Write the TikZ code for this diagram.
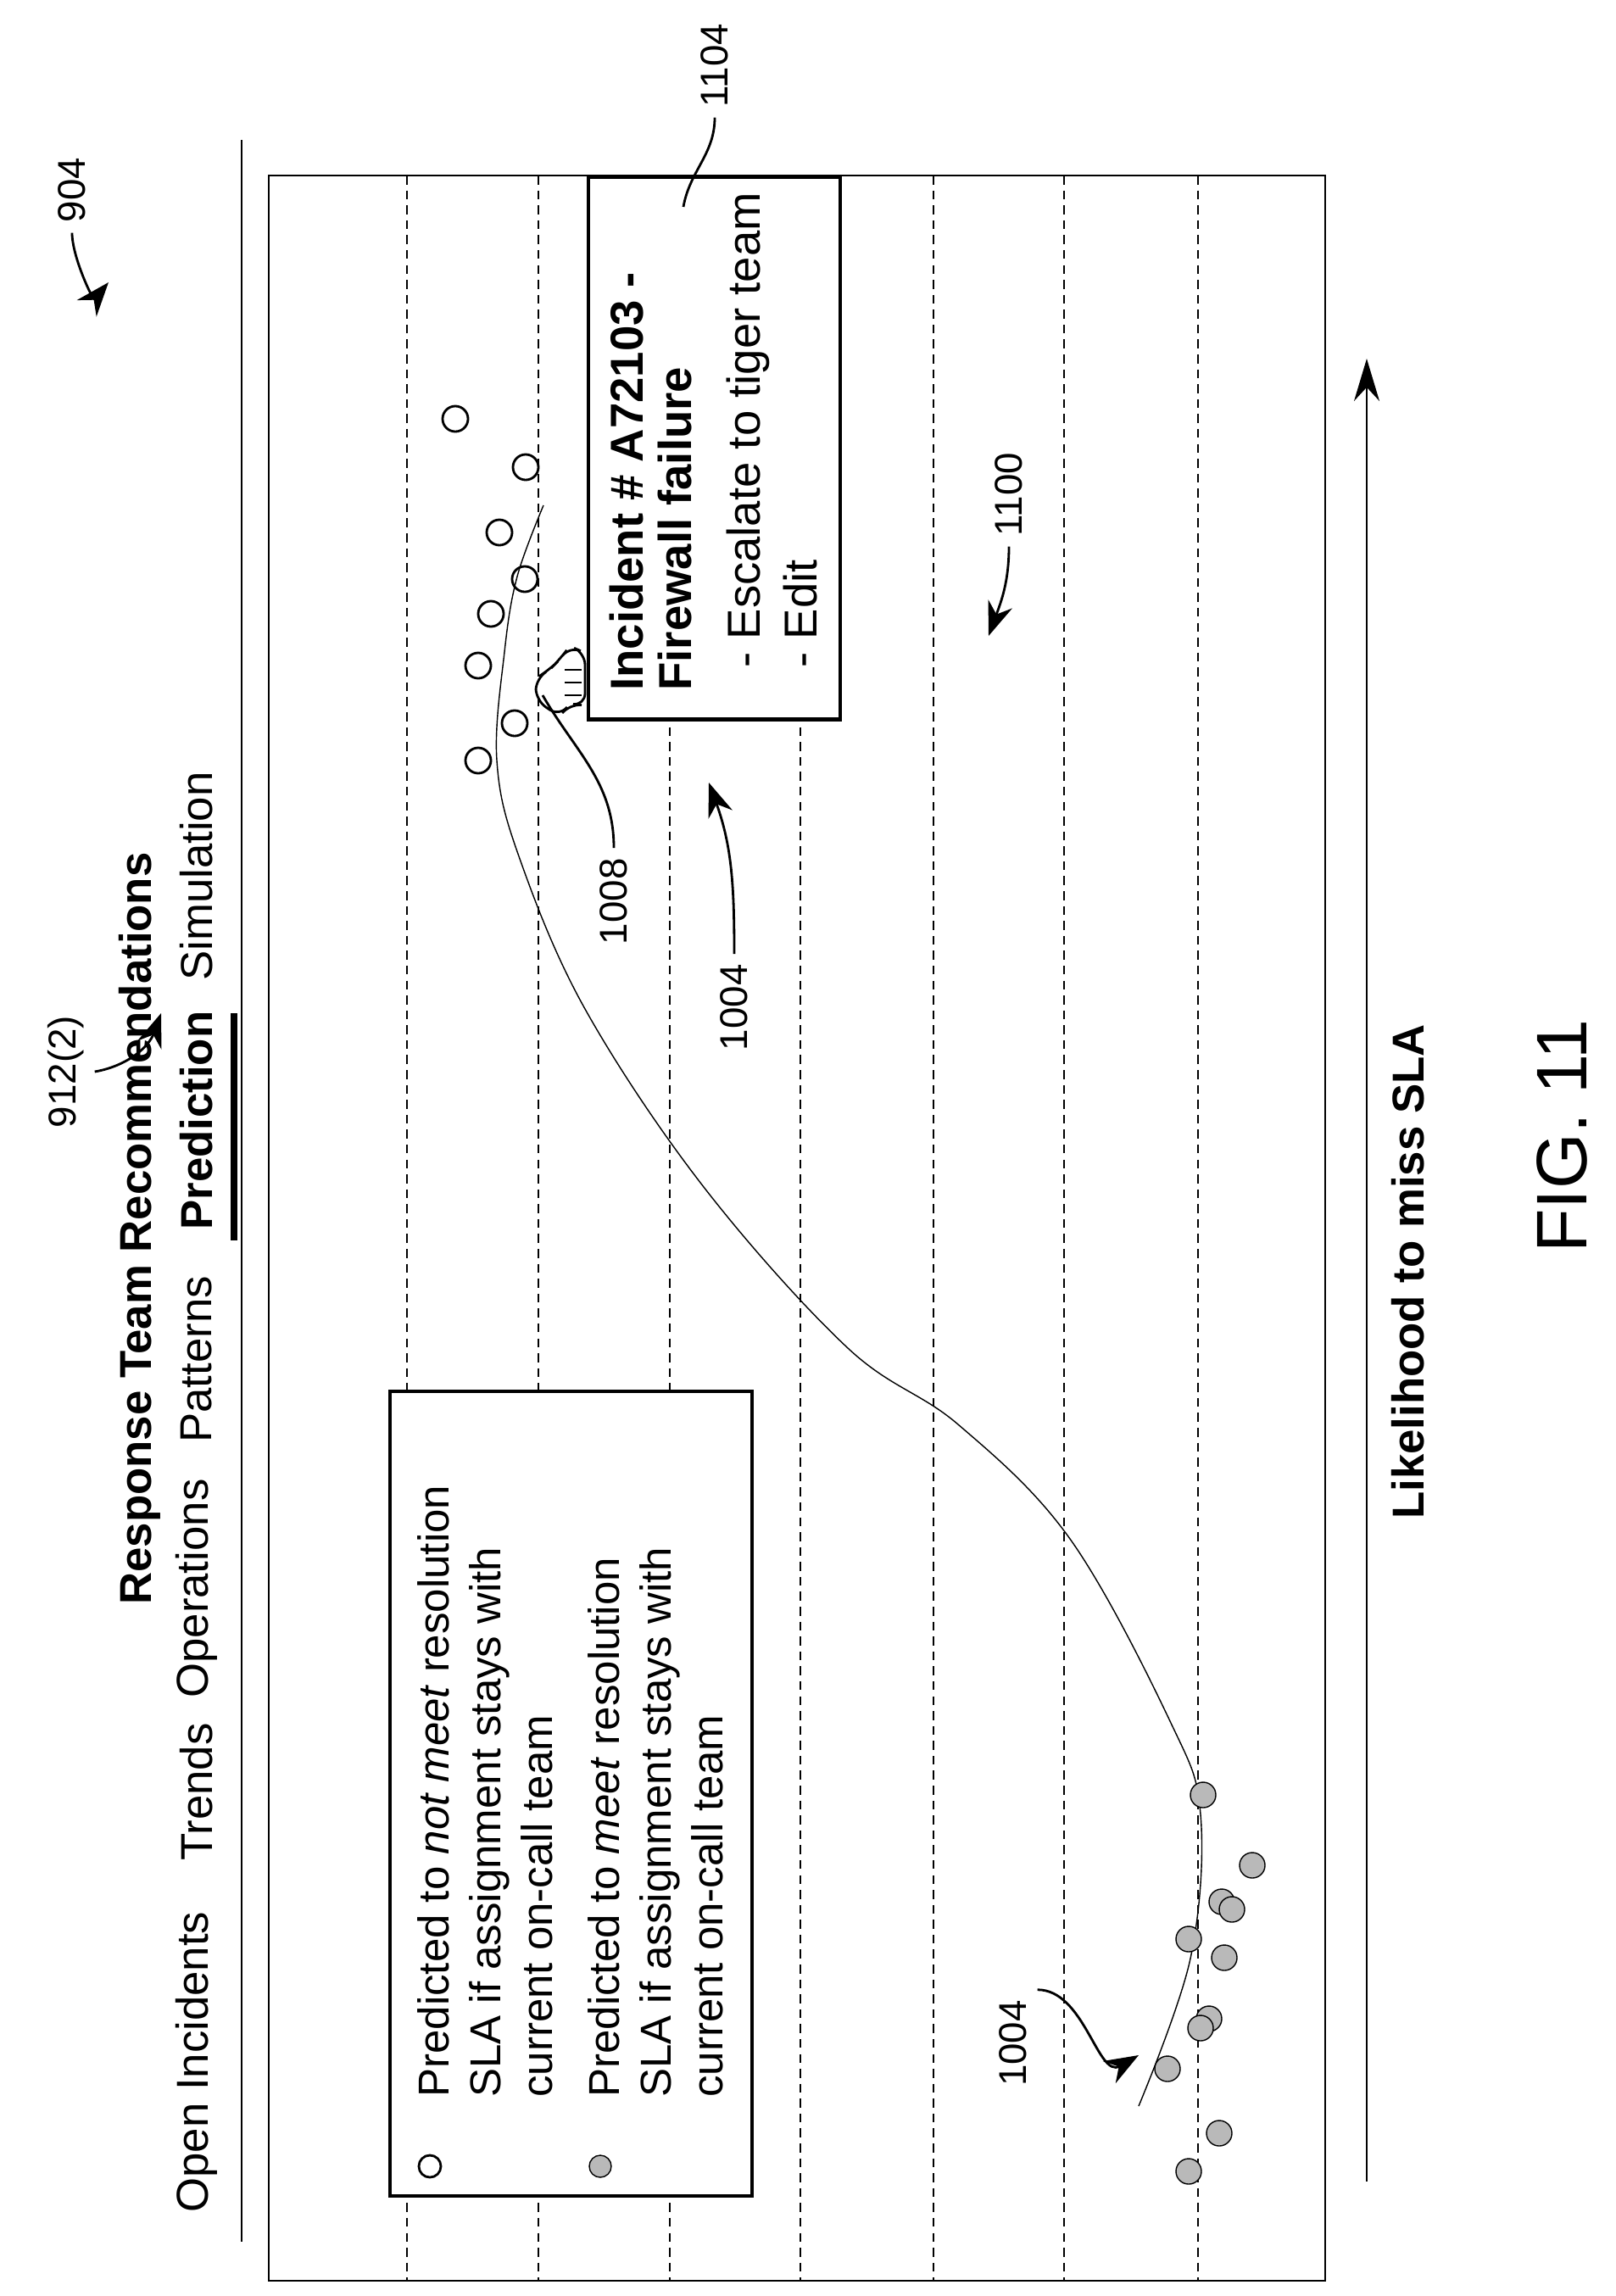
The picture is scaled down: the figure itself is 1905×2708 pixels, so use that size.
\documentclass[tikz,border=0pt]{standalone}
\usepackage{fontspec}
\setmainfont{Liberation Sans}
\usetikzlibrary{positioning,arrows.meta}

\begin{document}
\begin{tikzpicture}[x=0.01cm,y=-0.01cm,
    tab/.style={rotate=90,anchor=west,font=\fontsize{15}{18}\selectfont},
    lbl/.style={rotate=90,font=\fontsize{13}{15}\selectfont},
    grid line/.style={densely dashed,thin},
    opendot/.style={draw,thick,circle,minimum size=0.3cm,inner sep=0},
    metdot/.style={draw,circle,minimum size=0.3cm,inner sep=0,fill=gray!55},
    callout/.style={-{Stealth[length=4mm,width=3mm]},thick}]
    \useasboundingbox (0,0) rectangle (1905,2708);
    %%%%% THE FRAME
    \draw[thin] (317,207) rectangle (1563,2690);
    \foreach \gx in {480,635,790,944,1101,1255,1413}
      \draw[grid line] (\gx,207) -- (\gx,2690);
    \draw (285,165) -- (285,2644);
    \draw[line width=2.5pt] (276,1195) -- (276,1463);
    %%%%% THE TABS
    \node[tab,font=\bfseries\fontsize{15}{18}\selectfont] (title) at (165,1905) {Response Team Recommendations};
    \node[tab] (open) at (232,2622) {Open Incidents};
    \node[tab] (trends) at (232,2207) {Trends};
    \node[tab] (ops) at (232,2015) {Operations};
    \node[tab] (patt) at (232,1714) {Patterns};
    \node[tab,font=\bfseries\fontsize{15}{18}\selectfont] (pred) at (232,1463) {Prediction};
    \node[tab] (sim) at (232,1169) {Simulation};
    %%%%% THE CURVE
    \draw[thin] plot[smooth,tension=0.6] coordinates {(641,596) (610,680) (595,769) (586,897)
      (612,1010) (690,1190) (830,1400) (1000,1590) (1130,1680) (1262,1815) (1380,2030)
      (1416,2140) (1404,2310) (1343,2484)};
    %%%%% THE INCIDENTS
    \foreach \px/\py [count=\i] in {537/494,620/551,589/628,619/683,579/724,564/785,607/853,564/897}
      \node[opendot] (miss\i) at (\px,\py) {};
    \foreach \px/\py [count=\i] in {1419/2117,1477/2200,1441/2243,1453/2252,1402/2287,1444/2309,
        1426/2381,1416/2392,1377/2440,1438/2516,1402/2561}
      \node[metdot] (met\i) at (\px,\py) {};
    % pointer
    \coordinate (hand) at (640,820);
    \draw[thick,fill=white,rounded corners=4pt] (632,826) -- (660,845) -- (672,830) -- (690,832)
      -- (690,770) -- (672,762) -- (660,778) -- (648,790) -- (632,800) -- cycle;
    \foreach \hy in {790,805,820} \draw[thick] (666,\hy) -- (686,\hy);
    %%%%% THE INCIDENT BOX
    \node[draw,very thick,fill=white,minimum width=2.97cm,minimum height=6.39cm,anchor=north west] (box) at (692,207) {};
    \node[rotate=90,anchor=north west,align=left,font=\bfseries\fontsize{15.5}{16}\selectfont] (inc) at (707,827)
      {Incident \# A72103 -\\Firewall failure};
    \node[rotate=90,anchor=north west,align=left,font=\fontsize{15.5}{19}\selectfont] (acts) at (845,800)
      {- Escalate to tiger team\\- Edit};
    %%%%% THE LEGEND
    \node[draw,very thick,fill=white,minimum width=4.27cm,minimum height=9.48cm,anchor=north west] (legend) at (458,1639) {};
    \node[opendot,minimum size=0.26cm] (keymiss) at (507,2555) {};
    \node[metdot,minimum size=0.26cm] (keymet) at (708,2555) {};
    \node[rotate=90,anchor=north west,align=left,font=\fontsize{14.5}{17.3}\selectfont] (keytext1) at (480,2486)
      {Predicted to \textit{not meet} resolution\\SLA if assignment stays with\\current on-call team};
    \node[rotate=90,anchor=north west,align=left,font=\fontsize{14.5}{17.3}\selectfont] (keytext2) at (681,2486)
      {Predicted to \textit{meet} resolution\\SLA if assignment stays with\\current on-call team};
    %%%%% THE AXIS
    \coordinate (axlo) at (1612,2573);
    \coordinate (axhi) at (1612,423);
    \draw[-{Stealth[length=5mm,width=3mm]}] (axlo) -- (axhi);
    \node[rotate=90,font=\bfseries\fontsize{15}{18}\selectfont] (axis) at (1661,1500) {Likelihood to miss SLA};
    \node[rotate=90,font=\fontsize{24}{28}\selectfont] (fig) at (1842,1340) {FIG. 11};
    %%%%% REFERENCE LABELS
    \node[lbl] (r904) at (85,224) {904};
    \coordinate (p904) at (128,333);
    \draw[callout] (r904.west) to[out=-90,in=-130] (p904);
    \node[lbl] (r912) at (78,1264) {912(2)};
    \coordinate (p912) at (190,1195);
    \draw[callout] (r912.south) to[out=10,in=-110] (p912);
    \node[lbl] (r1104) at (843,77) {1104};
    \coordinate (p1104) at (806,244);
    \draw[thick] (r1104.west) to[out=-90,in=80] (p1104);
    \node[lbl] (r1100) at (1190,583) {1100};
    \coordinate (p1100) at (1166,750);
    \draw[callout] (r1100.west) to[out=-90,in=70] (p1100);
    \node[lbl,anchor=east] (r1008) at (724,1000) {1008};
    \draw[thick] (r1008.east) to[out=90,in=-60] (hand);
    \node[lbl,anchor=east] (r1004a) at (866,1125) {1004};
    \coordinate (p1004a) at (836,923);
    \draw[callout] (r1004a.east) to[out=90,in=-70] (p1004a);
    \node[lbl] (r1004b) at (1195,2410) {1004};
    \coordinate (p1004b) at (1343,2424);
    \draw[callout] (r1004b.south east) to[out=0,in=-150] (p1004b);
\end{tikzpicture}
\end{document}
